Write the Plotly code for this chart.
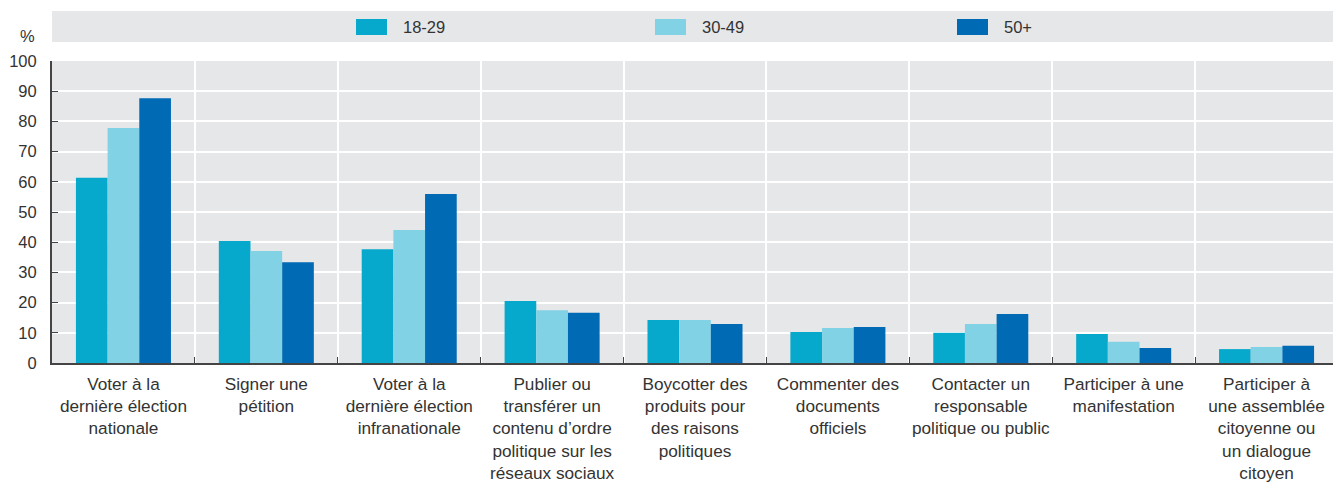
import plotly.graph_objects as go

categories = [
    "Voter à la<br>dernière élection<br>nationale",
    "Signer une<br>pétition",
    "Voter à la<br>dernière élection<br>infranationale",
    "Publier ou<br>transférer un<br>contenu d’ordre<br>politique sur les<br>réseaux sociaux",
    "Boycotter des<br>produits pour<br>des raisons<br>politiques",
    "Commenter des<br>documents<br>officiels",
    "Contacter un<br>responsable<br>politique ou public",
    "Participer à une<br>manifestation",
    "Participer à<br>une assemblée<br>citoyenne ou<br>un dialogue<br>citoyen",
]
series_names = ["18-29", "30-49", "50+"]
values_18_29 = [61.3, 40.4, 37.7, 20.5, 14.2, 10.3, 10.0, 9.6, 4.6]
values_30_49 = [77.8, 37.1, 44.0, 17.5, 14.2, 11.6, 12.9, 7.0, 5.3]
values_50p = [87.7, 33.4, 56.0, 16.6, 12.9, 11.9, 16.2, 5.0, 5.7]
series_values = [values_18_29, values_30_49, values_50p]
colors = ["#06A9CB", "#81D2E4", "#006AB5"]
y_ticks = [0, 10, 20, 30, 40, 50, 60, 70, 80, 90, 100]

FONT = "Liberation Sans, Arial, sans-serif"
TXT = "#333333"
FS = 16.5
FS_CAT = 17.2

fig = go.Figure()
for name, vals, col in zip(series_names, series_values, colors):
    fig.add_trace(go.Bar(x=categories, y=vals, name=name, marker_color=col,
                         marker_line_width=0, showlegend=False))

# page has an 8px body margin; figure coordinates are offset by it
OFF = 8
W, H = 1341 - OFF, 486 - OFF
ml, mt = 52 - OFF, 61 - OFF
mr = W - (1338 - OFF)
mb = H - (363 - OFF)
pw = W - ml - mr
ph = H - mt - mb


def px_x(x):
    return (x - OFF - ml) / pw


def px_y(y):
    return 1 - (y - OFF - mt) / ph


# legend band
fig.add_shape(type="rect", xref="paper", yref="paper",
              x0=px_x(52), x1=px_x(1341), y0=px_y(42), y1=px_y(11),
              fillcolor="#E6E7E9", line_width=0, layer="below")
leg_x = [356, 655, 957]
for name, col, lx in zip(series_names, colors, leg_x):
    fig.add_shape(type="rect", xref="paper", yref="paper",
                  x0=px_x(lx), x1=px_x(lx + 31),
                  y0=px_y(35), y1=px_y(19),
                  fillcolor=col, line_width=0)
    fig.add_annotation(text=name, xref="paper", yref="paper",
                       x=px_x(lx + 45), y=px_y(27),
                       xanchor="left", yanchor="middle", showarrow=False,
                       font=dict(family=FONT, size=FS, color=TXT))

fig.add_annotation(text="%", xref="paper", yref="paper",
                   x=px_x(28), y=px_y(36),
                   xanchor="center", yanchor="middle", showarrow=False,
                   font=dict(family=FONT, size=FS, color=TXT))

fig.update_layout(
    width=W, height=H,
    margin=dict(l=ml, r=mr, t=mt, b=mb, autoexpand=False),
    paper_bgcolor="white", plot_bgcolor="#E6E7E9",
    barmode="group", bargap=0.335, bargroupgap=0,
    font=dict(family=FONT, size=FS, color=TXT),
)
fig.update_xaxes(
    type="category", tickson="boundaries", showgrid=True, gridcolor="white", gridwidth=2,
    ticks="inside", ticklen=6, tickcolor="#444444", tickwidth=1,
    showline=True, linecolor="#444444", linewidth=2, tickangle=0,
    ticklabelstandoff=4,
    tickfont=dict(family=FONT, size=FS_CAT, color=TXT),
)
fig.update_yaxes(
    range=[0, 100], tickvals=y_ticks, showgrid=True, gridcolor="white", gridwidth=2,
    ticks="inside", ticklen=6, tickcolor="#444444", tickwidth=1,
    showline=True, linecolor="#444444", linewidth=2, zeroline=False,
    ticklabelstandoff=10,
    tickfont=dict(family=FONT, size=FS, color=TXT),
)

fig.write_html("out.html")
